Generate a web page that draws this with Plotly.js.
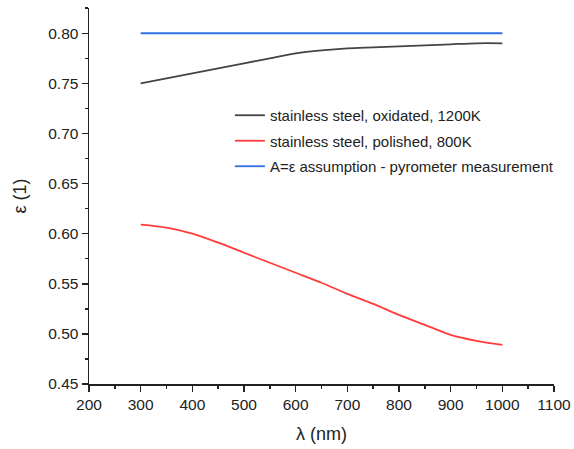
<!DOCTYPE html>
<html>
<head>
<meta charset="utf-8">
<script src="https://cdn.plot.ly/plotly-3.0.1.min.js"></script>
<style>html,body{margin:0;padding:0;background:#fff;}#chart{width:574px;height:449px;}</style>
</head>
<body>
<div id="chart"></div>
<script>
// Wavelength (nm)
const wavelength = [300, 350, 400, 450, 500, 550, 600, 650, 700, 750, 800, 850, 900, 950, 1000];
// Emissivity series
const oxidated1200K = [0.750, 0.755, 0.760, 0.765, 0.770, 0.775, 0.780, 0.783, 0.785, 0.786, 0.787, 0.788, 0.789, 0.790, 0.790];
const polished800K  = [0.609, 0.606, 0.600, 0.591, 0.581, 0.571, 0.561, 0.551, 0.540, 0.530, 0.519, 0.509, 0.499, 0.493, 0.489];
const pyrometerX = [300, 1000];
const pyrometerY = [0.80, 0.80];
const seriesNames = [
  "stainless steel, oxidated, 1200K",
  "stainless steel, polished, 800K",
  "A=\u03b5 assumption - pyrometer measurement"
];

const font = "Liberation Sans, Arial, sans-serif";
const traces = [
  {x: wavelength, y: oxidated1200K, name: seriesNames[0], legendgroup: "a", mode: "lines", line: {color: "#444444", width: 1.8, shape: "spline", smoothing: 0.8}},
  {x: wavelength, y: polished800K, name: seriesNames[1], legendgroup: "b", mode: "lines", line: {color: "#ff3b3b", width: 1.8, shape: "spline", smoothing: 0.8}},
  {x: pyrometerX, y: pyrometerY, name: seriesNames[2], legendgroup: "c", mode: "lines", line: {color: "#2f6fe0", width: 1.8}}
];

const axisCommon = {
  showline: true, linecolor: "#222", linewidth: 1.5,
  ticks: "outside", ticklen: 6, tickwidth: 1.5, tickcolor: "#222",
  showgrid: false, zeroline: false,
  tickfont: {family: font, size: 15.5, color: "#222"}
};

const layout = {
  width: 574, height: 449,
  margin: {l: 89, r: 20, t: 8, b: 65},
  paper_bgcolor: "#ffffff", plot_bgcolor: "#ffffff",
  font: {family: font, color: "#222"},
  showlegend: true,
  legend: {x: 0.303, y: 0.758, xanchor: "left", yanchor: "top", bgcolor: "rgba(0,0,0,0)",
           traceorder: "grouped", tracegroupgap: 3,
           font: {family: font, size: 15, color: "#222"}},
  xaxis: Object.assign({}, axisCommon, {
    range: [200, 1100], dtick: 100, tick0: 0,
    minor: {dtick: 50, ticks: "outside", ticklen: 3, tickwidth: 1.5, tickcolor: "#222"},
    title: {text: "\u03bb (nm)", font: {family: font, size: 18, color: "#222"}, standoff: 15}
  }),
  yaxis: Object.assign({}, axisCommon, {
    range: [0.45, 0.8252], dtick: 0.05, tick0: 0, tickformat: ".2f",
    minor: {dtick: 0.025, ticks: "outside", ticklen: 3, tickwidth: 1.5, tickcolor: "#222"},
    title: {text: "\u03b5 (1)", font: {family: font, size: 18, color: "#222"}, standoff: 17}
  })
};

Plotly.newPlot("chart", traces, layout, {staticPlot: true, displayModeBar: false});
</script>
</body>
</html>
